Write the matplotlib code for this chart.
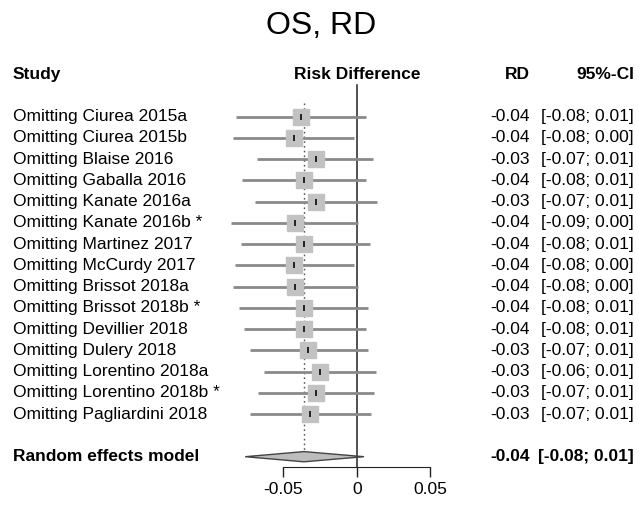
import numpy as np
import matplotlib.pyplot as plt
import matplotlib.transforms as mtransforms

plt.rcParams['font.family'] = ['Liberation Sans', 'DejaVu Sans']
plt.rcParams['axes.unicode_minus'] = False

studies = ["Omitting Ciurea 2015a", "Omitting Ciurea 2015b", "Omitting Blaise 2016",
           "Omitting Gaballa 2016", "Omitting Kanate 2016a", "Omitting Kanate 2016b *",
           "Omitting Martinez 2017", "Omitting McCurdy 2017", "Omitting Brissot 2018a",
           "Omitting Brissot 2018b *", "Omitting Devillier 2018", "Omitting Dulery 2018",
           "Omitting Lorentino 2018a", "Omitting Lorentino 2018b *", "Omitting Pagliardini 2018"]
rd = [-0.038, -0.043, -0.028, -0.036, -0.028, -0.042, -0.036, -0.043,
      -0.042, -0.036, -0.036, -0.033, -0.025, -0.028, -0.032]
ci_low = [-0.082, -0.084, -0.068, -0.078, -0.069, -0.086, -0.079, -0.083,
          -0.084, -0.080, -0.077, -0.073, -0.063, -0.067, -0.073]
ci_high = [0.006, -0.002, 0.011, 0.006, 0.014, 0.001, 0.009, -0.002,
           0.001, 0.008, 0.006, 0.008, 0.013, 0.012, 0.010]

model_label = "Random effects model"
model_rd = -0.036
model_low = -0.076
model_high = 0.005

xticks = [-0.05, 0, 0.05]


def fmt(v):
    s = f"{v:.2f}"
    return "0.00" if s == "-0.00" else s


W, H = 639, 509
fig = plt.figure(figsize=(W / 100, H / 100), dpi=100)

# forest panel: x in risk difference units, y in row numbers
row0_px, row_px = 116.7, 21.25
x0_px, px_per_unit = 356.7, 1466.7
xlim = (-0.1, 0.06)
left_px = x0_px + xlim[0] * px_per_unit
right_px = x0_px + xlim[1] * px_per_unit
ax = fig.add_axes([left_px / W, 0, (right_px - left_px) / W, 1])
ax.set_xlim(*xlim)
r_top = 1 - row0_px / row_px
r_bot = 1 + (H - row0_px) / row_px
ax.set_ylim(r_bot, r_top)
ax.patch.set_alpha(0)

rows = np.arange(1, len(studies) + 1)
model_row = len(studies) + 2
axis_row = model_row + 0.47

# reference lines
ax.plot([0, 0], [-0.5, axis_row], color='#222222', lw=1.1, zorder=1)
ax.plot([model_rd, model_rd], [0.35, model_row - 0.2], color='#555555', lw=1.0,
        ls=(0, (1.2, 2.2)), zorder=1)

# study estimates
ax.hlines(rows, ci_low, ci_high, color='#8a8a8a', lw=2.0, zorder=2)
ax.plot(rd, rows, ls='none', marker='s', ms=11.5, mfc='#c2c2c2', mec='#c2c2c2', zorder=3)
ax.plot(rd, rows, ls='none', marker='|', ms=5, mew=1.4, color='#222222', zorder=4)

# pooled diamond
h = 0.24
ax.fill([model_low, model_rd, model_high, model_rd],
        [model_row, model_row - h, model_row, model_row + h],
        facecolor='#bdbdbd', edgecolor='#444444', lw=1.0, zorder=3)

# x axis
for s in ['top', 'left', 'right']:
    ax.spines[s].set_visible(False)
ax.spines['bottom'].set_position(('data', axis_row))
ax.spines['bottom'].set_bounds(xticks[0], xticks[-1])
ax.spines['bottom'].set_color('#222222')
ax.set_xticks(xticks)
ax.set_xticklabels(['-0.05', '0', '0.05'])
ax.tick_params(axis='x', direction='out', length=7.2, width=1.0, color='#222222',
               labelsize=12.5, pad=4)
ax.set_yticks([])

# text columns: x in figure pixels, y in rows
tr = mtransforms.blended_transform_factory(
    mtransforms.Affine2D().scale(1 / W, 1) + fig.transFigure, ax.transData)
fs = 12.5
hdr = -1
ax.text(13, hdr, "Study", transform=tr, fontsize=fs, fontweight='bold', va='center', ha='left')
ax.text(357, hdr, "Risk Difference", transform=tr, fontsize=fs, fontweight='bold',
        va='center', ha='center')
ax.text(530, hdr, "RD", transform=tr, fontsize=fs, fontweight='bold', va='center', ha='right')
ax.text(634, hdr, "95%-CI", transform=tr, fontsize=fs, fontweight='bold', va='center', ha='right')

for r, name, v, lo, hi in zip(rows, studies, rd, ci_low, ci_high):
    ax.text(13, r, name, transform=tr, fontsize=fs, va='center', ha='left')
    ax.text(530, r, fmt(v), transform=tr, fontsize=fs, va='center', ha='right')
    ax.text(634, r, f"[{fmt(lo)}; {fmt(hi)}]", transform=tr, fontsize=fs, va='center', ha='right')

ax.text(13, model_row, model_label, transform=tr, fontsize=fs, fontweight='bold',
        va='center', ha='left')
ax.text(530, model_row, fmt(model_rd), transform=tr, fontsize=fs, fontweight='bold',
        va='center', ha='right')
ax.text(634, model_row, f"[{fmt(model_low)}; {fmt(model_high)}]", transform=tr,
        fontsize=fs, fontweight='bold', va='center', ha='right')

fig.text(321 / W, 1 - 26 / H, "OS, RD", fontsize=23, ha='center', va='center')

fig.savefig('out.png', dpi=100)
